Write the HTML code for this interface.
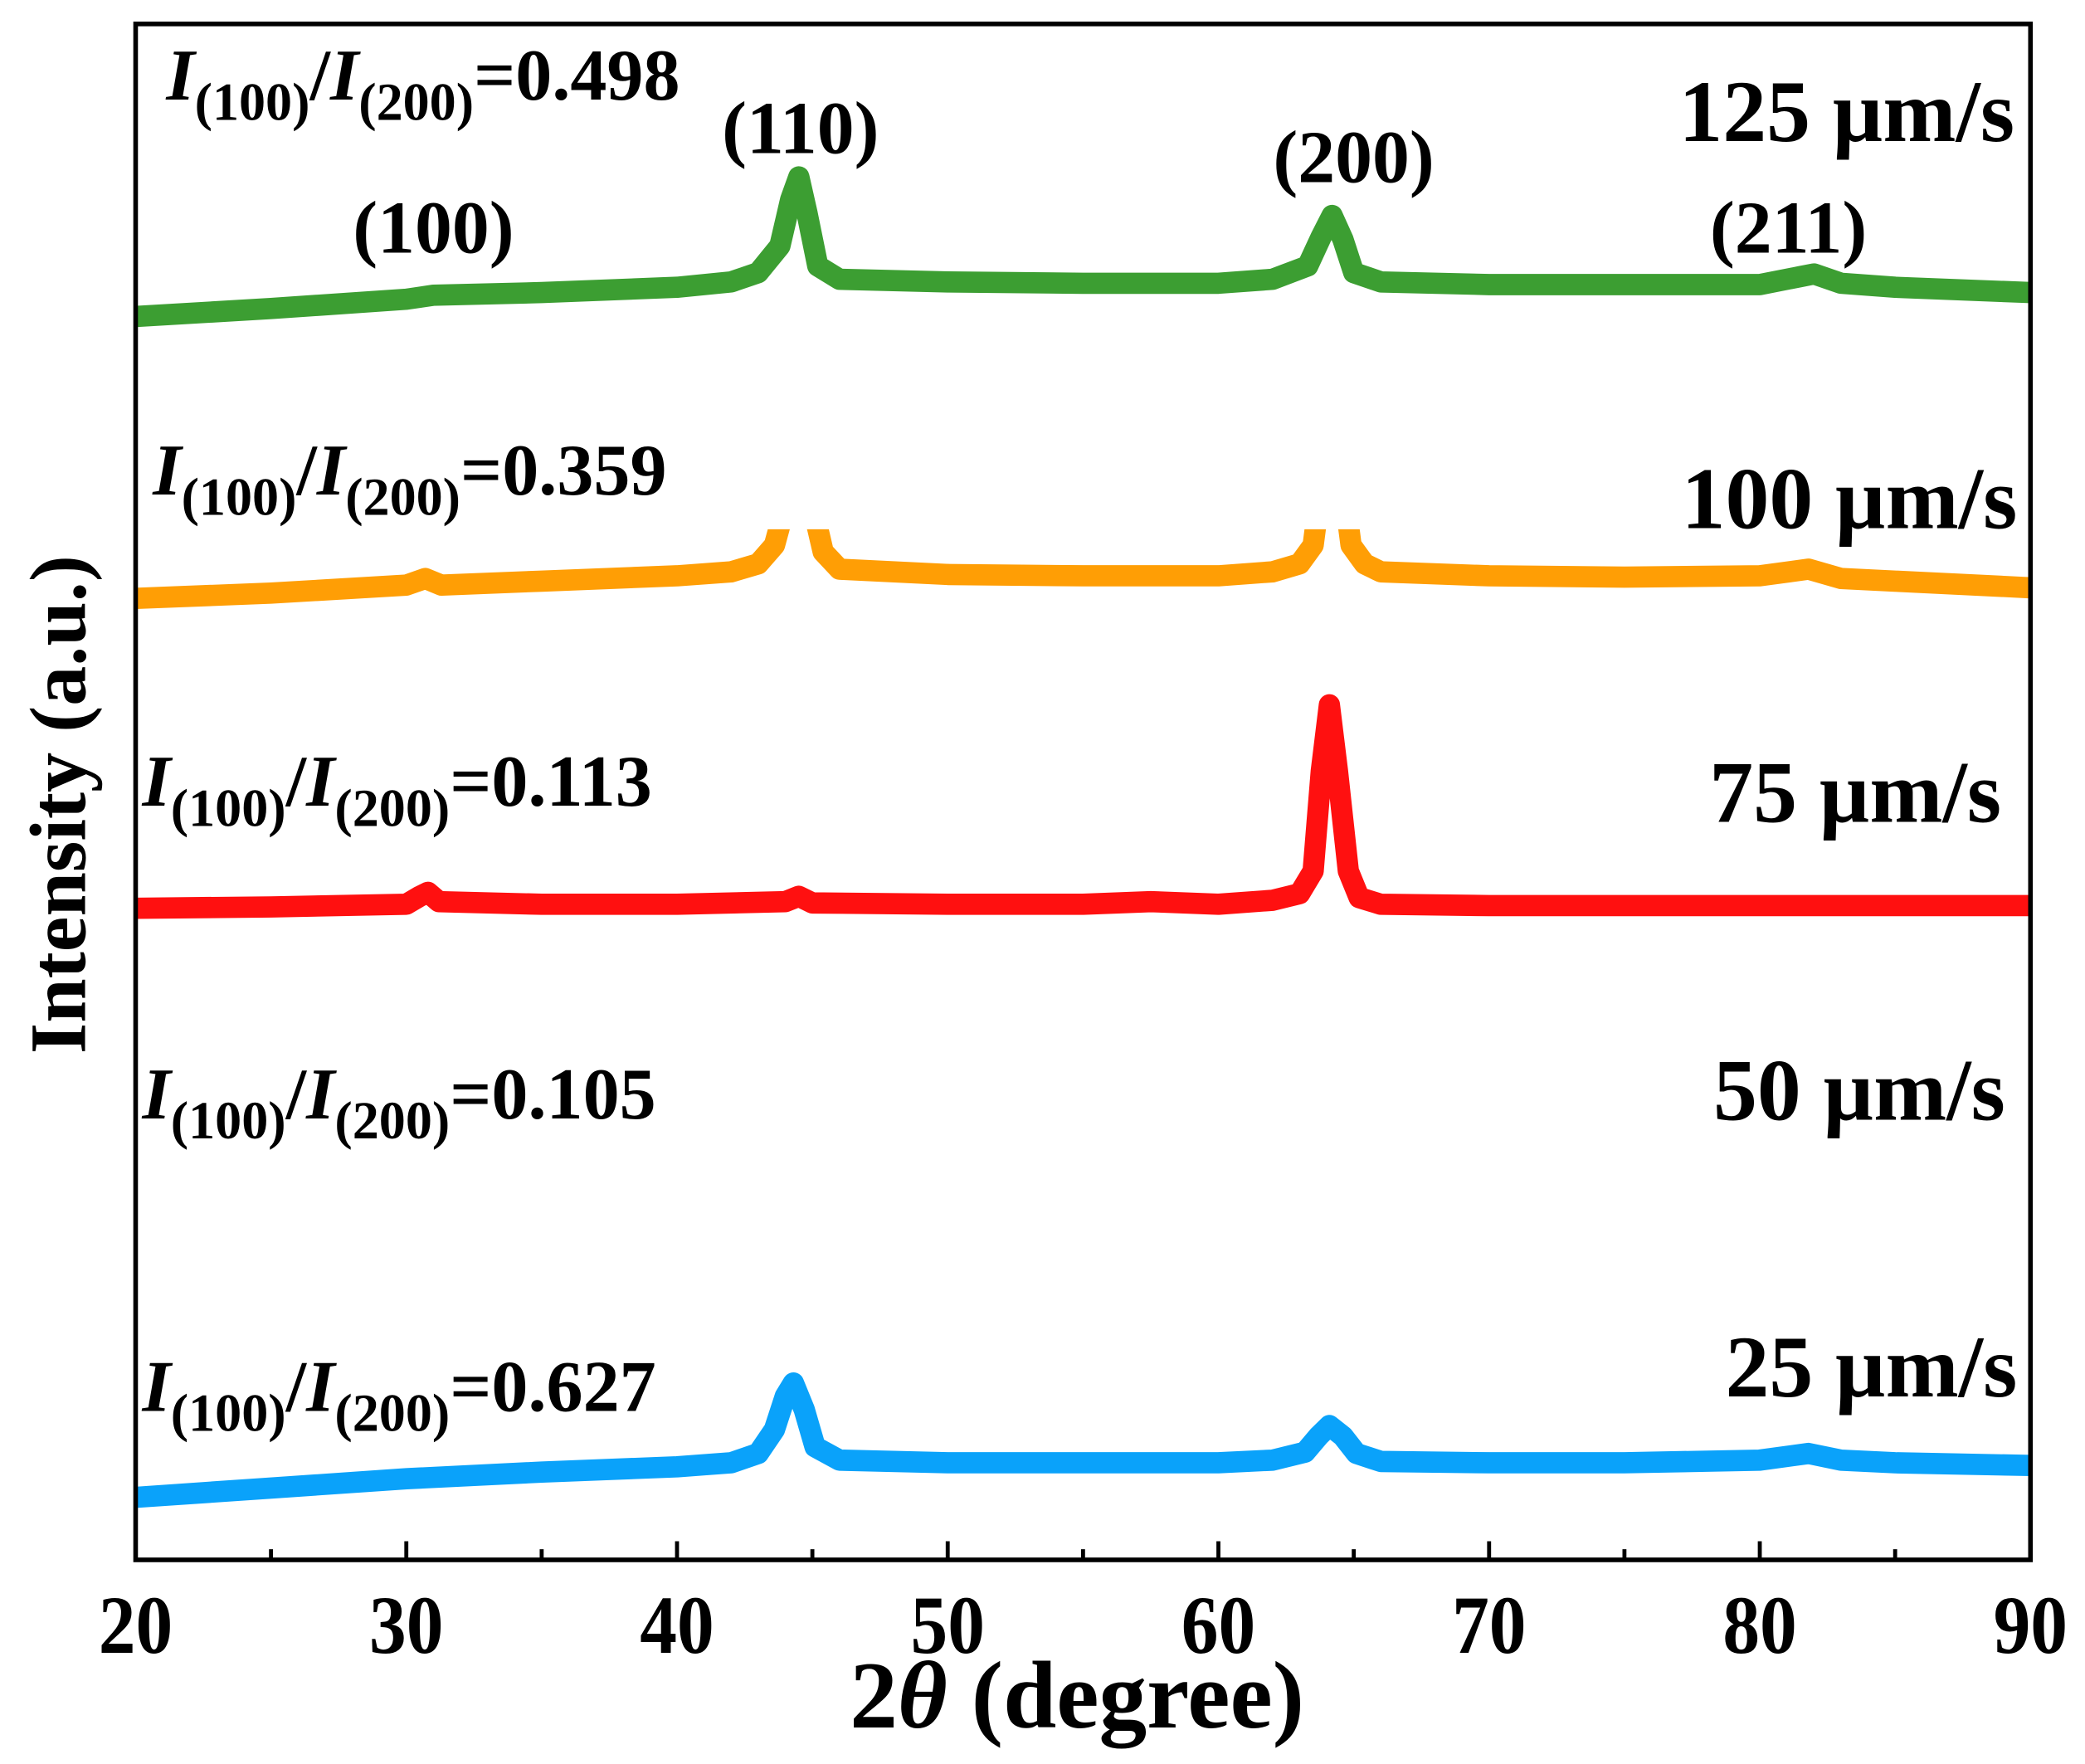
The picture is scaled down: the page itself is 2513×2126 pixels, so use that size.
<!DOCTYPE html>
<html><head><meta charset="utf-8"><style>
html,body{margin:0;padding:0;background:#fff;}
svg{display:block;}
text{font-family:"Liberation Serif",serif;font-weight:bold;fill:#000;}
</style></head><body>
<svg id="chart" width="2513" height="2126" viewBox="0 0 1568 1326.5" xmlns="http://www.w3.org/2000/svg">
<defs><clipPath id="clipOr"><rect x="102" y="398" width="1425" height="300"/></clipPath>
<clipPath id="clipPlot"><rect x="102" y="18" width="1425" height="1155"/></clipPath></defs>
<g id="series" clip-path="url(#clipPlot)"></g>
<rect x="102" y="18" width="1425" height="1155" fill="none" stroke="#000" stroke-width="3.5"/>
<g id="ticks"></g>
<text transform="translate(810,1299)" font-size="72" text-anchor="middle">2<tspan font-style="italic">θ</tspan> (degree)</text>
<text transform="translate(64,605) rotate(-90)" font-size="60" text-anchor="middle">Intensity (a.u.)</text>

<g><text x="125" y="75" font-size="55"><tspan font-style="italic">I</tspan><tspan font-size="40" dy="15">(100)</tspan><tspan dy="-15">/</tspan><tspan font-style="italic">I</tspan><tspan font-size="40" dy="15">(200)</tspan><tspan dy="-15">=0.498</tspan></text></g>
<g><text x="115" y="372" font-size="55"><tspan font-style="italic">I</tspan><tspan font-size="40" dy="15">(100)</tspan><tspan dy="-15">/</tspan><tspan font-style="italic">I</tspan><tspan font-size="40" dy="15">(200)</tspan><tspan dy="-15">=0.359</tspan></text></g>
<g><text x="107" y="606" font-size="55"><tspan font-style="italic">I</tspan><tspan font-size="40" dy="15">(100)</tspan><tspan dy="-15">/</tspan><tspan font-style="italic">I</tspan><tspan font-size="40" dy="15">(200)</tspan><tspan dy="-15">=0.113</tspan></text></g>
<g><text x="107" y="841" font-size="55"><tspan font-style="italic">I</tspan><tspan font-size="40" dy="15">(100)</tspan><tspan dy="-15">/</tspan><tspan font-style="italic">I</tspan><tspan font-size="40" dy="15">(200)</tspan><tspan dy="-15">=0.105</tspan></text></g>
<g><text x="107" y="1061" font-size="55"><tspan font-style="italic">I</tspan><tspan font-size="40" dy="15">(100)</tspan><tspan dy="-15">/</tspan><tspan font-style="italic">I</tspan><tspan font-size="40" dy="15">(200)</tspan><tspan dy="-15">=0.627</tspan></text></g>

<text x="1515" y="106" font-size="66" text-anchor="end">125 µm/s</text>
<text x="1517" y="397" font-size="66" text-anchor="end">100 µm/s</text>
<text x="1505" y="618" font-size="66" text-anchor="end">75 µm/s</text>
<text x="1508" y="842" font-size="66" text-anchor="end">50 µm/s</text>
<text x="1517" y="1050" font-size="66" text-anchor="end">25 µm/s</text>

<text x="326" y="190" font-size="56" text-anchor="middle">(100)</text>
<text x="602" y="115" font-size="56" text-anchor="middle">(110)</text>
<text x="1018" y="137" font-size="56" text-anchor="middle">(200)</text>
<text x="1345" y="190" font-size="56" text-anchor="middle">(211)</text>
</svg>
<script>
const xTicks=[20,30,40,50,60,70,80,90];
const xMinor=[25,35,45,55,65,75,85];
const gX=[20,25,30,31,35,40,42,43,43.8,44.2,44.5,44.8,45.2,46,50,55,60,62,63.3,63.8,64.2,64.6,65,66,70,75,80,81.5,82,83,85,90];
const gV=[935,941,948,951,953,957,961,968,988,1023,1040,1013,973,963,961,960,960,963,973,995,1011,993,968,961,959,959,959,965,967,960,957,953];
const oX=[20,25,30,30.7,31.3,35,40,42,43,43.6,44,44.5,45,45.4,46,50,55,60,62,63,63.5,64.2,64.9,65.4,66,70,75,80,81.8,83,85,90];
const oV=[723,727,733,738,733,736,740,743,749,763,793,873,793,758,745,741,740,740,743,749,763,873,763,749,743,740,739,740,745,738,736,731];
const rX=[20,25,30,30.5,30.8,31.2,35,40,44,44.5,45,50,55,57.5,60,62,63,63.5,63.8,64.1,64.4,64.8,65.2,66,70,80,90];
const rV=[490,491,493,499,502,495,493,493,495,499,494,493,493,495,493,496,501,518,593,643,593,518,498,493,492,492,492];
const bX=[20,25,30,35,40,42,43,43.6,44,44.3,44.7,45.1,46,50,55,60,62,63.2,63.7,64.1,64.6,65.1,66,70,75,80,81.8,83,85,90];
const bV=[47,54,61,66,70,73,80,98,123,133,113,85,75,73,73,73,75,81,93,101,93,80,74,73,73,75,80,75,73,71];

const NS="http://www.w3.org/2000/svg";
function xs(v){return 102+(v-20)*(1425/70);}
function ys(v){return 1173-v;}
const series=document.getElementById('series');
function draw(X,V,color,name,clip){
  const p=document.createElementNS(NS,'path');
  let d=X.map((x,i)=>(i?'L':'M')+xs(x).toFixed(2)+' '+ys(V[i]).toFixed(2)).join(' ');
  p.setAttribute('d',d);
  p.setAttribute('fill','none');
  p.setAttribute('stroke',color);
  p.setAttribute('stroke-width','16');
  p.setAttribute('stroke-linejoin','round');
  p.setAttribute('stroke-linecap','round');
  if(clip)p.setAttribute('clip-path','url(#'+clip+')');
  
  
  series.appendChild(p);
}
draw(gX,gV,'#3c9e32','series-125-um-s');
draw(oX,oV,'#ff9e05','series-100-um-s','clipOr');
draw(rX,rV,'#ff1010','series-75-um-s');
draw(bX,bV,'#0aa2fa','series-25-um-s');

const ticks=document.getElementById('ticks');
function tick(v,len){
  const l=document.createElementNS(NS,'line');
  l.setAttribute('x1',xs(v));l.setAttribute('x2',xs(v));
  l.setAttribute('y1',1173);l.setAttribute('y2',1173-len);
  l.setAttribute('stroke','#000');l.setAttribute('stroke-width','3');
  
  
  ticks.appendChild(l);
}
xTicks.forEach(v=>{
  tick(v,14);
  const t=document.createElementNS(NS,'text');
  t.setAttribute('transform','translate('+xs(v)+',1243) scale(0.9,1)');
  t.setAttribute('font-size','62');t.setAttribute('text-anchor','middle');
  t.textContent=v;
  
  
  ticks.appendChild(t);
});
xMinor.forEach(v=>tick(v,8));
</script>
</body></html>
